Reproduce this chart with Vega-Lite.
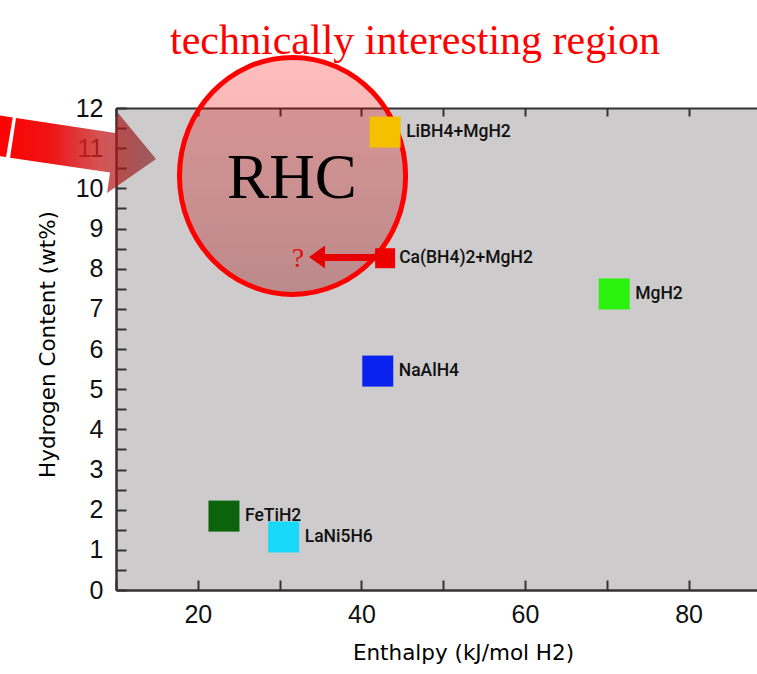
{
  "$schema": "https://vega.github.io/schema/vega-lite/v6.json",
  "width": 641,
  "height": 482,
  "autosize": {"type": "none"},
  "padding": {"left": 116, "top": 108, "right": 0, "bottom": 84},
  "background": "#ffffff",
  "config": {"view": {"fill": "#cdcbcc", "stroke": null}},
  "datasets": {
    "compounds": [
      {"name": "LiBH4+MgH2", "enthalpy": 42.9, "h2": 11.4},
      {"name": "Ca(BH4)2+MgH2", "enthalpy": 42.9, "h2": 8.26},
      {"name": "MgH2", "enthalpy": 70.9, "h2": 7.37},
      {"name": "NaAlH4", "enthalpy": 42.0, "h2": 5.45},
      {"name": "FeTiH2", "enthalpy": 23.2, "h2": 1.84},
      {"name": "LaNi5H6", "enthalpy": 30.5, "h2": 1.32}
    ],
    "shapes": [
      {"kind": "region", "enthalpy": 31.58, "h2": 10.31},
      {"kind": "bigArrow", "enthalpy": 5.36, "h2": 10.88},
      {"kind": "arrowShaft", "enthalpy": 42.5, "enthalpy2": 35.5, "h2": 8.28},
      {"kind": "arrowHead", "enthalpy": 34.57, "h2": 8.29},
      {"kind": "rhc", "enthalpy": 31.5, "h2": 9.76, "text": "RHC"},
      {"kind": "question", "enthalpy": 32.25, "h2": 8.04, "text": "?"},
      {"kind": "heading", "enthalpy": 46.55, "h2": 13.34, "text": "technically interesting region"}
    ]
  },
  "resolve": {"axis": {"x": "independent", "y": "independent"}},
  "layer": [
    {
      "data": {"name": "shapes"},
      "transform": [{"filter": "datum.kind === 'region'"}],
      "mark": {"type": "point", "shape": "M -0.954 0 A 0.954 1 0 1 0 0.954 0 A 0.954 1 0 1 0 -0.954 0 Z", "size": 56169, "filled": true, "opacity": 1, "fillOpacity": 1, "strokeOpacity": 1,
        "fill": {"gradient": "linear", "x1": 0, "y1": 0, "x2": 0, "y2": 1, "stops": [{"offset": 0, "color": "rgba(255,0,0,0.26)"}, {"offset": 1, "color": "rgba(150,0,0,0.32)"}]},
        "stroke": "#ff0000", "strokeWidth": 5},
      "encoding": {
        "x": {"field": "enthalpy", "type": "quantitative", "scale": {"domain": [10, 88.36], "nice": false, "zero": false}, "axis": null},
        "y": {"field": "h2", "type": "quantitative", "scale": {"domain": [0, 12], "nice": false, "zero": false}, "axis": null}
      }
    },
    {
      "data": {"name": "compounds"},
      "transform": [{"filter": "datum.name !== 'Ca(BH4)2+MgH2'"}],
      "mark": {"type": "point", "shape": "square", "filled": true, "size": 961, "opacity": 1, "strokeWidth": 0},
      "encoding": {
        "x": {"field": "enthalpy", "type": "quantitative",
          "axis": {"orient": "bottom", "values": [20, 40, 60, 80], "ticks": false, "domainColor": "#333", "domainWidth": 2.5, "labelFont": "Liberation Sans", "labelFontSize": 25, "labelColor": "#111", "labelPadding": 12, "labelFlush": false, "labelOverlap": false, "grid": false,
            "title": "Enthalpy (kJ/mol H2)", "titleFont": "DejaVu Sans", "titleFontSize": 21.5, "titleFontWeight": "normal", "titleColor": "#000000", "titleX": 347, "titleY": 69, "titleBaseline": "alphabetic", "titleAlign": "center"}},
        "y": {"field": "h2", "type": "quantitative",
          "axis": {"orient": "left", "values": [0, 1, 2, 3, 4, 5, 6, 7, 8, 9, 10, 11, 12], "ticks": false, "domainColor": "#333", "domainWidth": 2.5, "labelFont": "Liberation Sans", "labelFontSize": 25, "labelColor": "#111", "labelPadding": 13, "labelFlush": false, "labelOverlap": false, "grid": false,
            "title": "Hydrogen Content (wt%)", "titleFont": "DejaVu Sans", "titleFontSize": 21.5, "titleFontWeight": "normal", "titleColor": "#000000", "titleX": -62, "titleY": 236, "titleAngle": -90, "titleBaseline": "alphabetic", "titleAlign": "center"}},
        "color": {"field": "name", "type": "nominal", "legend": null,
          "scale": {"domain": ["LiBH4+MgH2", "Ca(BH4)2+MgH2", "MgH2", "NaAlH4", "FeTiH2", "LaNi5H6"], "range": ["#f5c000", "#ee0000", "#2af20c", "#0a22f0", "#0b640b", "#19d9fb"]}}
      }
    },
    {
      "data": {"name": "compounds"},
      "transform": [{"filter": "datum.name === 'Ca(BH4)2+MgH2'"}],
      "mark": {"type": "point", "shape": "square", "filled": true, "size": 400, "opacity": 1, "strokeWidth": 0, "color": "#ee0000"},
      "encoding": {
        "x": {"field": "enthalpy", "type": "quantitative",
          "axis": {"orient": "bottom", "values": [10, 20, 30, 40, 50, 60, 70, 80], "labels": false, "domain": false, "ticks": true, "tickSize": 10, "tickWidth": 2, "tickColor": "#333", "offset": -10, "grid": false, "title": null}},
        "y": {"field": "h2", "type": "quantitative",
          "axis": {"orient": "left", "values": [0, 0.5, 1, 1.5, 2, 2.5, 3, 3.5, 4, 4.5, 5, 5.5, 6, 6.5, 7, 7.5, 8, 8.5, 9, 9.5, 10, 10.5, 11, 11.5, 12], "labels": false, "domain": false, "ticks": true, "tickSize": 10, "tickWidth": 2, "tickColor": "#333", "offset": -10, "grid": false, "title": null}}
      }
    },
    {
      "data": {"name": "shapes"},
      "transform": [{"filter": "datum.kind === 'arrowShaft'"}],
      "mark": {"type": "rule", "color": "#e60000", "strokeWidth": 7},
      "encoding": {
        "x": {"field": "enthalpy", "type": "quantitative",
          "axis": {"orient": "top", "labels": false, "ticks": false, "domain": true, "domainColor": "#333", "domainWidth": 2, "grid": false, "title": null}},
        "x2": {"field": "enthalpy2"},
        "y": {"field": "h2", "type": "quantitative", "axis": null}
      }
    },
    {
      "data": {"name": "shapes"},
      "transform": [{"filter": "datum.kind === 'arrowHead'"}],
      "mark": {"type": "point", "shape": "M -1 0 L 1 -1.44 L 1 1.44 Z", "size": 256, "filled": true, "opacity": 1, "color": "#e60000", "strokeWidth": 0},
      "encoding": {
        "x": {"field": "enthalpy", "type": "quantitative",
          "axis": {"orient": "top", "values": [10, 20, 30, 40, 50, 60, 70, 80], "labels": false, "domain": false, "ticks": true, "tickSize": 8, "tickWidth": 2, "tickColor": "#333", "offset": -8, "grid": false, "title": null}},
        "y": {"field": "h2", "type": "quantitative", "axis": null}
      }
    },
    {
      "data": {"name": "compounds"},
      "transform": [{"filter": "datum.name !== 'Ca(BH4)2+MgH2'"}],
      "mark": {"type": "text", "align": "left", "baseline": "middle", "dx": 21, "font": "Roboto", "fontSize": 17.5, "fontWeight": 500, "color": "#111"},
      "encoding": {
        "x": {"field": "enthalpy", "type": "quantitative", "axis": null},
        "y": {"field": "h2", "type": "quantitative", "axis": null},
        "text": {"field": "name"}
      }
    },
    {
      "data": {"name": "compounds"},
      "transform": [{"filter": "datum.name === 'Ca(BH4)2+MgH2'"}],
      "mark": {"type": "text", "align": "left", "baseline": "middle", "dx": 14, "font": "Roboto", "fontSize": 17.5, "fontWeight": 500, "color": "#111"},
      "encoding": {
        "x": {"field": "enthalpy", "type": "quantitative", "axis": null},
        "y": {"field": "h2", "type": "quantitative", "axis": null},
        "text": {"field": "name"}
      }
    },
    {
      "data": {"name": "shapes"},
      "transform": [{"filter": "datum.kind === 'rhc'"}],
      "mark": {"type": "text", "align": "center", "baseline": "alphabetic", "font": "Liberation Serif", "fontSize": 63, "color": "#000000"},
      "encoding": {
        "x": {"field": "enthalpy", "type": "quantitative", "axis": null},
        "y": {"field": "h2", "type": "quantitative", "axis": null},
        "text": {"field": "text"}
      }
    },
    {
      "data": {"name": "shapes"},
      "transform": [{"filter": "datum.kind === 'question'"}],
      "mark": {"type": "text", "align": "center", "baseline": "alphabetic", "font": "Liberation Serif", "fontSize": 28, "color": "#dd1111"},
      "encoding": {
        "x": {"field": "enthalpy", "type": "quantitative", "axis": null},
        "y": {"field": "h2", "type": "quantitative", "axis": null},
        "text": {"field": "text"}
      }
    },
    {
      "data": {"name": "shapes"},
      "transform": [{"filter": "datum.kind === 'heading'"}],
      "mark": {"type": "text", "align": "center", "baseline": "alphabetic", "font": "Liberation Serif", "fontSize": 42, "color": "#ff0000"},
      "encoding": {
        "x": {"field": "enthalpy", "type": "quantitative", "axis": null},
        "y": {"field": "h2", "type": "quantitative", "axis": null},
        "text": {"field": "text"}
      }
    },
    {
      "data": {"name": "shapes"},
      "transform": [{"filter": "datum.kind === 'bigArrow'"}],
      "mark": {"type": "point", "shape": "M -1.05 -0.479 L -0.816 -0.444 L -0.9 0.05 L -1.05 0.029 Z M -0.775 -0.4375 L 0.466 -0.25 L 0.5 -0.5 L 0.975 0.075 L 0.3625 0.5 L 0.4 0.244 L -0.85 0.059 Z", "size": 25600, "filled": true, "opacity": 1, "fillOpacity": 1, "strokeWidth": 0,
        "fill": {"gradient": "linear", "x1": 0, "y1": 0, "x2": 1, "y2": 0, "stops": [{"offset": 0, "color": "rgba(255,0,0,1)"}, {"offset": 0.35, "color": "rgba(240,20,20,1)"}, {"offset": 0.65, "color": "rgba(200,35,35,0.78)"}, {"offset": 1, "color": "rgba(120,0,5,0.55)"}]}},
      "encoding": {
        "x": {"field": "enthalpy", "type": "quantitative", "axis": null},
        "y": {"field": "h2", "type": "quantitative", "axis": null}
      }
    }
  ]
}
